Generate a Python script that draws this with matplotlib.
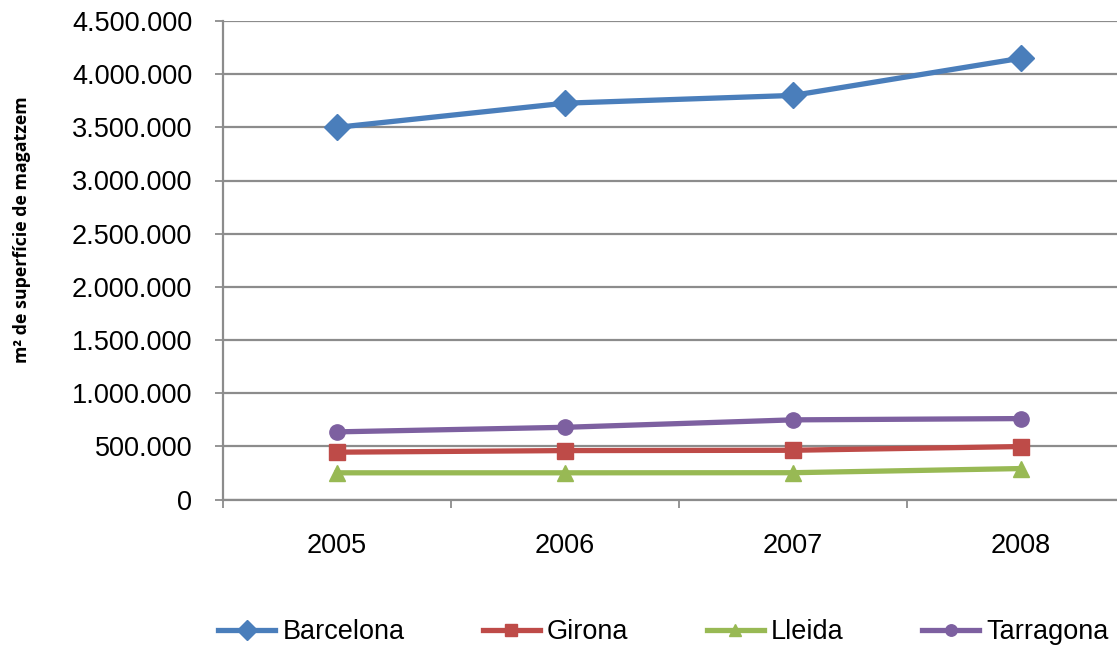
import matplotlib
matplotlib.use("Agg")
import matplotlib.pyplot as plt
from matplotlib.ticker import FuncFormatter, FixedLocator

years = ["2005", "2006", "2007", "2008"]
barcelona = [3500000, 3727000, 3800000, 4150000]
girona = [445000, 460000, 463000, 498000]
lleida = [251000, 251000, 252000, 291000]
tarragona = [636000, 679000, 749000, 761000]

series = [
    ("Barcelona", barcelona, "#4A7EBB", "D", 13),
    ("Girona", girona, "#BE4B48", "s", 11),
    ("Lleida", lleida, "#98B954", "^", 12),
    ("Tarragona", tarragona, "#7D60A0", "o", 11),
]

plt.rcParams['font.family'] = ['Liberation Sans', 'DejaVu Sans']

fig = plt.figure(figsize=(11.17, 6.45), dpi=100)
ax = fig.add_axes([223/1117, (645-499.5)/645, 912/1117, (499.5-21)/645])

x = list(range(1, len(years) + 1))
handles = []
for name, vals, col, mk, ms in series:
    h, = ax.plot(x, vals, color=col, lw=3.8, marker=mk, markersize=ms,
                 markeredgecolor=col, label=name, clip_on=False, zorder=3)
    handles.append(h)

ax.set_xlim(0.5, 4.5)
ax.set_ylim(0, 4500000)
ax.set_yticks(range(0, 4500001, 500000))
ax.yaxis.set_major_formatter(FuncFormatter(lambda v, p: f"{int(v):,}".replace(",", ".")))
ax.grid(axis='y', color='#8c8c8c', lw=1.6, zorder=0)

ax.xaxis.set_major_locator(FixedLocator([0.5, 1.5, 2.5, 3.5, 4.5]))
ax.xaxis.set_major_formatter(FuncFormatter(lambda v, p: ""))
ax.xaxis.set_minor_locator(FixedLocator(x))
ax.set_xticklabels(years, minor=True)
ax.tick_params(axis='x', which='major', length=6, width=1.3, color='#8c8c8c', direction='out')
ax.tick_params(axis='x', which='minor', length=0, pad=24, labelsize=19.5)
ax.tick_params(axis='y', length=6, width=1.3, color='#8c8c8c', direction='out', pad=16, labelsize=19.5)

for s in ['top', 'right']:
    ax.spines[s].set_visible(False)
for s in ['left', 'bottom']:
    ax.spines[s].set_color('#8c8c8c')
    ax.spines[s].set_linewidth(1.6)

fig.text(22/1117, 1 - 230/645, "m² de superfície de magatzem", rotation=90,
         ha='center', va='center', fontsize=12.8, fontweight='bold',
         family=['Open Sans', 'DejaVu Sans'])

fig.legend(handles=handles, loc='center', bbox_to_anchor=(0.594, 1 - 632/645), ncol=4,
           frameon=False, fontsize=19.5, handlelength=2.1, columnspacing=2.9,
           handletextpad=0.26, borderaxespad=0, markerscale=0.75)

fig.savefig("out.png", dpi=100)
